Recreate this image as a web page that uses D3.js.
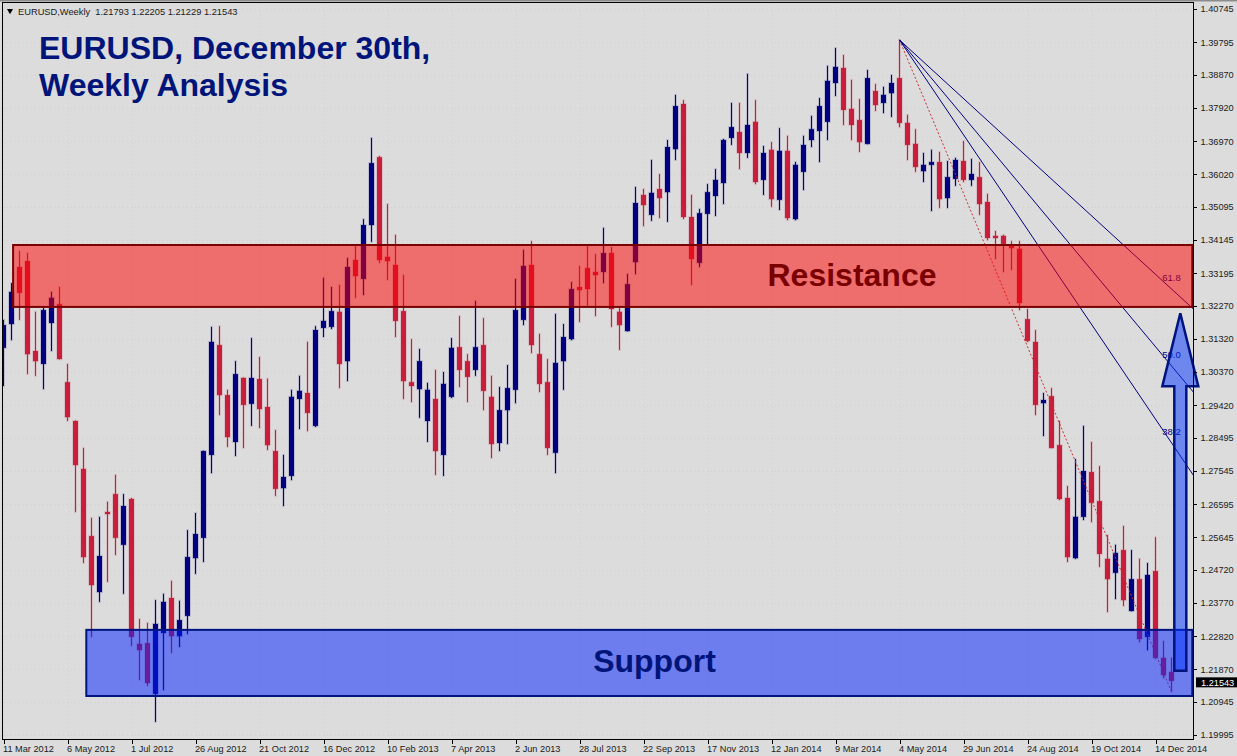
<!DOCTYPE html>
<html>
<head>
<meta charset="utf-8">
<script src="https://cdn.jsdelivr.net/npm/d3@7"></script>
<style>
  html, body { margin: 0; padding: 0; background: #dcdcdc; overflow: hidden; }
  svg { display: block; }
  .axis text { font-family: "Liberation Sans", sans-serif; font-size: 9.2px; fill: #1a1a1a; }
  .axis path, .axis line { stroke: #000; shape-rendering: crispEdges; }
  .grid line { stroke: #d0d0d0; stroke-dasharray: 1 3; shape-rendering: crispEdges; }
  .grid path { display: none; }
</style>
</head>
<body>
<div id="chart"></div>
<script>
// weekly candles, one row = 10 weeks, first week is 11 Mar 2012
const opens = [
  1.3106,1.3174,1.3337,1.3354,1.3097,1.3060,1.3177,1.3231,1.3008,1.2897,
  1.2760,1.2568,1.2408,1.2637,1.2688,1.2543,1.2674,1.2260,1.2262,1.2117,
  1.2291,1.2391,1.2282,1.2340,1.2505,1.2563,1.2800,1.3114,1.2971,1.2837,
  1.3020,1.2946,1.3017,1.2937,1.2811,1.2705,1.2740,1.2960,1.2977,1.2883,
  1.3163,1.3166,1.3209,1.3068,1.3357,1.3303,1.3457,1.3651,1.3366,1.3343,
  1.3211,1.3008,1.2988,1.2897,1.2960,1.2800,1.2966,1.3108,1.3068,1.3043,
  1.3114,1.2966,1.2834,1.2928,1.2986,1.3186,1.3343,1.3088,1.3008,1.2806,
  1.3068,1.3131,1.3280,1.3334,1.3323,1.3323,1.3377,1.3209,1.3154,1.3351,
  1.3543,1.3486,1.3560,1.3551,1.3674,1.3803,1.3480,1.3349,1.3489,1.3540,
  1.3577,1.3706,1.3723,1.3663,1.3752,1.3586,1.3672,1.3529,1.3669,1.3474,
  1.3609,1.3700,1.3726,1.3752,1.3863,1.3906,1.3789,1.3757,1.3689,1.3840,
  1.3806,1.3834,1.3877,1.3749,1.3689,1.3611,1.3629,1.3637,1.3534,1.3589,
  1.3640,1.3586,1.3594,1.3523,1.3426,1.3426,1.3400,1.3389,1.3188,1.3123,
  1.2948,1.2968,1.2828,1.2677,1.2505,1.2623,1.2751,1.2668,1.2503,1.2463,
  1.2528,1.2354,1.2445,1.2280,1.2468,1.2220,1.21793
];
const highs = [
  1.3186,1.3291,1.3383,1.3377,1.3209,1.3220,1.3266,1.3280,1.3060,1.2898,
  1.2820,1.2620,1.2623,1.2666,1.2743,1.2688,1.2677,1.2331,1.2320,1.2385,
  1.2403,1.2440,1.2383,1.2585,1.2634,1.2812,1.3166,1.3168,1.2986,1.3068,
  1.3021,1.3134,1.3080,1.3018,1.2871,1.2800,1.2986,1.3026,1.3123,1.3168,
  1.3306,1.3280,1.3286,1.3363,1.3400,1.3474,1.3706,1.3654,1.3517,1.3429,
  1.3314,1.3131,1.3103,1.3006,1.3043,1.3037,1.3134,1.3197,1.3088,1.3240,
  1.3191,1.3026,1.2994,1.3057,1.3303,1.3386,1.3411,1.3146,1.3074,1.3203,
  1.3174,1.3294,1.3340,1.3400,1.3374,1.3449,1.3394,1.3223,1.3317,1.3566,
  1.3560,1.3643,1.3603,1.3700,1.3829,1.3814,1.3543,1.3503,1.3574,1.3617,
  1.3703,1.3806,1.3806,1.3889,1.3814,1.3683,1.3694,1.3734,1.3712,1.3637,
  1.3712,1.3769,1.3820,1.3912,1.3963,1.3943,1.3872,1.3817,1.3900,1.3860,
  1.3852,1.3886,1.3986,1.3772,1.3731,1.3663,1.3672,1.3666,1.3640,1.3649,
  1.3697,1.3646,1.3637,1.3546,1.3440,1.3429,1.3411,1.3411,1.3217,1.3157,
  1.2977,1.2991,1.2897,1.2711,1.2788,1.2883,1.2837,1.2768,1.2571,1.2543,
  1.2597,1.2528,1.2503,1.2491,1.2565,1.2268,1.22205
];
const lows = [
  1.2997,1.3128,1.3186,1.3031,1.3026,1.2988,1.3097,1.3073,1.2897,1.2637,
  1.2491,1.2280,1.2380,1.2437,1.2514,1.2403,1.2254,1.2157,1.2140,1.2037,
  1.2128,1.2234,1.2251,1.2288,1.2460,1.2494,1.2748,1.2914,1.2823,1.2797,
  1.2820,1.2883,1.2877,1.2814,1.2683,1.2654,1.2728,1.2874,1.2868,1.2880,
  1.3137,1.3160,1.2991,1.3011,1.3249,1.3257,1.3409,1.3349,1.3300,1.3137,
  1.2960,1.2951,1.2906,1.2837,1.2743,1.2740,1.2963,1.2994,1.2951,1.3026,
  1.2928,1.2791,1.2811,1.2831,1.2948,1.3171,1.3091,1.2980,1.2800,1.2748,
  1.2986,1.3128,1.3180,1.3226,1.3197,1.3291,1.3166,1.3100,1.3153,1.3317,
  1.3454,1.3469,1.3477,1.3466,1.3643,1.3474,1.3286,1.3337,1.3403,1.3483,
  1.3517,1.3686,1.3617,1.3649,1.3574,1.3543,1.3509,1.3500,1.3471,1.3471,
  1.3557,1.3680,1.3637,1.3700,1.3826,1.3743,1.3700,1.3666,1.3688,1.3783,
  1.3777,1.3766,1.3737,1.3643,1.3609,1.3580,1.3497,1.3506,1.3506,1.3569,
  1.3580,1.3569,1.3486,1.3414,1.3360,1.3323,1.3329,1.3214,1.3123,1.2914,
  1.2854,1.2819,1.2671,1.2494,1.2503,1.2614,1.2608,1.2480,1.2351,1.2388,
  1.2368,1.2353,1.2265,1.2242,1.2217,1.2162,1.21229
];
const closes = [
  1.3171,1.3266,1.3263,1.3088,1.3068,1.3214,1.3249,1.3074,1.2908,1.2771,
  1.2508,1.2428,1.2511,1.2631,1.2563,1.2654,1.2280,1.2242,1.2148,1.2317,
  1.2380,1.2282,1.2328,1.2508,1.2574,1.2811,1.3123,1.2971,1.2851,1.3031,
  1.2943,1.3020,1.2931,1.2828,1.2703,1.2737,1.2966,1.2983,1.2920,1.3157,
  1.3183,1.3211,1.3060,1.3337,1.3311,1.3457,1.3634,1.3357,1.3354,1.3183,
  1.3011,1.2997,1.3068,1.2986,1.2811,1.3003,1.3106,1.3043,1.3023,1.3108,
  1.2983,1.2831,1.2928,1.2991,1.3214,1.3340,1.3114,1.3003,1.2820,1.3063,
  1.3137,1.3274,1.3271,1.3274,1.3314,1.3377,1.3217,1.3171,1.3288,1.3520,
  1.3514,1.3549,1.3534,1.3680,1.3797,1.3480,1.3360,1.3491,1.3551,1.3586,
  1.3700,1.3737,1.3663,1.3743,1.3580,1.3663,1.3531,1.3669,1.3477,1.3629,
  1.3686,1.3731,1.3797,1.3869,1.3909,1.3786,1.3743,1.3694,1.3877,1.3800,
  1.3829,1.3863,1.3749,1.3686,1.3623,1.3629,1.3637,1.3531,1.3594,1.3643,
  1.3586,1.3603,1.3517,1.3420,1.3420,1.3403,1.3391,1.3234,1.3126,1.2943,
  1.2957,1.2820,1.2674,1.2508,1.2623,1.2754,1.2663,1.2517,1.2445,1.2520,
  1.2385,1.2445,1.2274,1.2457,1.2220,1.2171,1.21543
];

const priceTicks = [1.40745,1.39795,1.38870,1.37920,1.36970,1.36020,1.35095,1.34145,1.33195,1.32270,
  1.31320,1.30370,1.29420,1.28495,1.27545,1.26595,1.25645,1.24720,1.23770,1.22820,1.21870,1.20945,1.19995];
const dateLabels = ['11 Mar 2012','6 May 2012','1 Jul 2012','26 Aug 2012','21 Oct 2012','16 Dec 2012',
  '10 Feb 2013','7 Apr 2013','2 Jun 2013','28 Jul 2013','22 Sep 2013','17 Nov 2013','12 Jan 2014',
  '9 Mar 2014','4 May 2014','29 Jun 2014','24 Aug 2014','19 Oct 2014','14 Dec 2014'];
const dateIndex = dateLabels.map((d, i) => i * 8);

const fibLevels = [38.2, 50.0, 61.8];
const fibFrom = 112, fibTo = 146;   // swing high week, swing low week

const resistance = { from: 1.2, to: 148.6, top: 1.3400, bottom: 1.3223 };
const support = { from: 10.35, to: 148.6, top: 1.2300, bottom: 1.2111 };
const arrowIndex = 147.1, arrowTip = 1.3205, arrowNeck = 1.2996, arrowTail = 1.2183;

const lastPrice = closes[closes.length - 1];

const width = 1237, height = 756;
const plot = { left: 3, top: 3, right: 1194, bottom: 740 };

const svg = d3.select('#chart').append('svg').attr('width', width).attr('height', height);

const x = d3.scaleLinear().domain([0, closes.length - 1]).range([3.5, 1171.5]);
const y = d3.scaleLinear().domain([priceTicks[priceTicks.length - 1], priceTicks[0]]).range([735, 9]);

svg.append('rect').attr('width', width).attr('height', 1.5).attr('fill', '#8c8c8c');

svg.append('defs').append('clipPath').attr('id', 'plot-clip').append('rect')
  .attr('x', plot.left).attr('y', plot.top)
  .attr('width', plot.right - plot.left).attr('height', plot.bottom - plot.top);

// dotted grid
svg.append('g').attr('class', 'grid')
  .attr('transform', `translate(${plot.left},0)`)
  .call(d3.axisRight(y).tickValues(priceTicks).tickFormat('').tickSize(plot.right - plot.left));
svg.append('g').attr('class', 'grid')
  .attr('transform', `translate(0,${plot.top})`)
  .call(d3.axisBottom(x).tickValues(dateIndex).tickFormat('').tickSize(plot.bottom - plot.top));

const chart = svg.append('g').attr('clip-path', 'url(#plot-clip)');

// candles, the faint stroke stands in for the soft edge of the screenshot
const red = '#c81e3c', navy = '#000080';
const candles = chart.append('g').selectAll('g').data(d3.range(closes.length)).join('g')
  .attr('fill', i => closes[i] >= opens[i] ? navy : red)
  .attr('stroke', i => closes[i] >= opens[i] ? navy : red)
  .attr('stroke-opacity', 0.14)
  .attr('stroke-width', 2);
candles.append('rect')
  .attr('x', i => x(i) - 0.5).attr('width', 1)
  .attr('y', i => y(highs[i]))
  .attr('height', i => y(lows[i]) - y(highs[i]));
candles.append('rect')
  .attr('x', i => x(i) - 2.5).attr('width', 5)
  .attr('y', i => y(Math.max(opens[i], closes[i])))
  .attr('height', i => Math.max(2, Math.abs(y(opens[i]) - y(closes[i]))));

// fibonacci fan
const hi = highs[fibFrom], lo = lows[fibTo];
const fanEnd = x.domain()[1] + 3;
chart.append('line')
  .attr('x1', x(fibFrom)).attr('y1', y(hi)).attr('x2', x(fibTo)).attr('y2', y(lo))
  .attr('stroke', '#c83232').attr('stroke-dasharray', '2 2').attr('fill', 'none');
fibLevels.forEach(level => {
  const at = lo + (hi - lo) * level / 100;
  const slope = (at - hi) / (fibTo - fibFrom);
  chart.append('line')
    .attr('x1', x(fibFrom)).attr('y1', y(hi))
    .attr('x2', x(fanEnd)).attr('y2', y(hi + slope * (fanEnd - fibFrom)))
    .attr('stroke', navy).attr('stroke-width', 1);
  chart.append('text')
    .attr('x', x(fibTo)).attr('y', y(at) - 8)
    .attr('text-anchor', 'middle')
    .attr('font-family', '"Liberation Sans", sans-serif').attr('font-size', 9.5)
    .attr('fill', navy)
    .text(level.toFixed(1));
});

// zones
const zone = (z, fill, stroke) => svg.append('rect')
  .attr('x', x(z.from)).attr('y', y(z.top))
  .attr('width', x(z.to) - x(z.from)).attr('height', y(z.bottom) - y(z.top))
  .attr('fill', fill).attr('stroke', stroke).attr('stroke-width', 2);
zone(resistance, 'rgba(255,0,0,0.5)', '#7a0000');
zone(support, 'rgba(0,30,255,0.5)', '#00147f');

// arrow up from support to resistance
const ax = x(arrowIndex);
const arrowPath = d3.path();
arrowPath.moveTo(ax, y(arrowTip));
arrowPath.lineTo(ax + 18, y(arrowNeck));
arrowPath.lineTo(ax + 6, y(arrowNeck));
arrowPath.lineTo(ax + 6, y(arrowTail));
arrowPath.lineTo(ax - 6, y(arrowTail));
arrowPath.lineTo(ax - 6, y(arrowNeck));
arrowPath.lineTo(ax - 18, y(arrowNeck));
arrowPath.closePath();
svg.append('path').attr('d', arrowPath.toString())
  .attr('fill', 'rgba(0,50,255,0.5)').attr('stroke', '#00147f').attr('stroke-width', 2.5);

// frame and axes
svg.append('rect')
  .attr('x', plot.left - 0.5).attr('y', plot.top - 0.5)
  .attr('width', plot.right - plot.left).attr('height', plot.bottom - plot.top)
  .attr('fill', 'none').attr('stroke', '#000');

const yAxis = svg.append('g').attr('class', 'axis')
  .attr('transform', `translate(${plot.right - 0.5},0)`)
  .call(d3.axisRight(y).tickValues(priceTicks).tickFormat(d3.format('.5f')).tickSize(3).tickPadding(4));
yAxis.select('.domain').remove();

const xAxis = svg.append('g').attr('class', 'axis')
  .attr('transform', `translate(0,${plot.bottom - 0.5})`)
  .call(d3.axisBottom(x).tickValues(dateIndex).tickFormat((d, i) => dateLabels[i]).tickSize(4).tickPadding(2));
xAxis.select('.domain').remove();
xAxis.selectAll('text').attr('text-anchor', 'start').attr('dx', -1);

// last price tag
svg.append('rect').attr('x', plot.right + 2).attr('y', y(lastPrice) - 3.5)
  .attr('width', width - plot.right - 2).attr('height', 10).attr('fill', '#000');
svg.append('text').attr('x', plot.right + 7).attr('y', y(lastPrice) + 4.7)
  .attr('font-family', '"Liberation Sans", sans-serif').attr('font-size', 9.2).attr('fill', '#fff')
  .text(d3.format('.5f')(lastPrice));

// header line
svg.append('path').attr('d', d3.symbol(d3.symbolTriangle, 16)()).attr('fill', '#000')
  .attr('transform', 'translate(10,10.8) rotate(180)');
svg.append('text').attr('x', 18).attr('y', 15)
  .attr('font-family', '"Liberation Sans", sans-serif').attr('font-size', 9.3).attr('fill', '#1a1a1a')
  .attr('xml:space', 'preserve')
  .text(`EURUSD,Weekly  ${opens[146]} ${highs[146]} ${lows[146]} ${closes[146]}`);

// titles
const big = (text, px, py, size, fill, anchor) => svg.append('text')
  .attr('x', px).attr('y', py).attr('text-anchor', anchor || 'start')
  .attr('font-family', '"Liberation Sans", Arial, sans-serif').attr('font-weight', 'bold')
  .attr('font-size', size).attr('fill', fill).text(text);
big('EURUSD, December 30th,', 39, 59, 32, '#00147a');
big('Weekly Analysis', 39, 96, 32, '#00147a');
big('Resistance', 852, 286, 32, '#7a0000', 'middle');
big('Support', 654.5, 672, 32, '#00147a', 'middle');
</script>
</body>
</html>
